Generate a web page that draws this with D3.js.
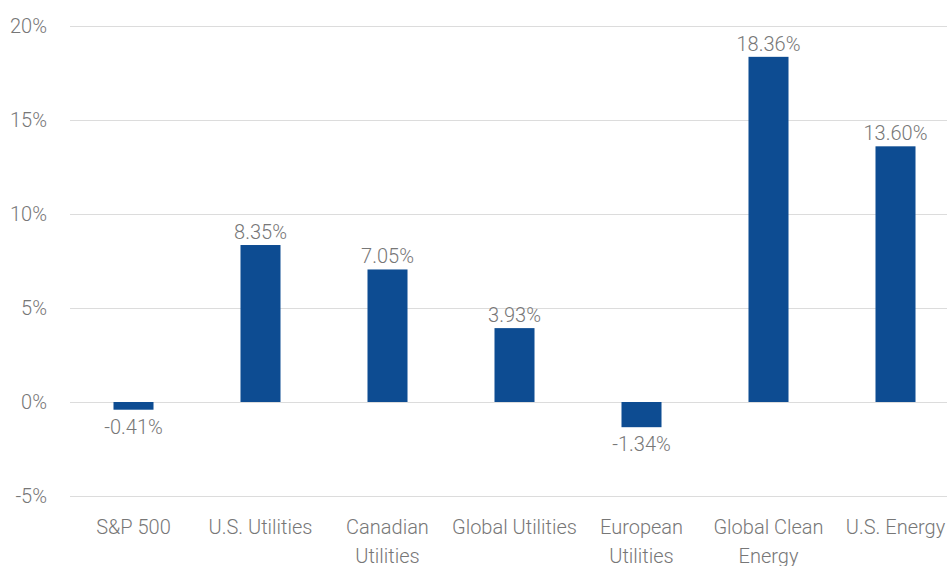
<!DOCTYPE html>
<html>
<head>
<meta charset="utf-8">
<script src="https://cdn.jsdelivr.net/npm/d3@7"></script>
<style>
  body { margin: 0; background: #fff; }
  svg text { font-family: Roboto, "Liberation Sans", sans-serif; font-weight: 300; fill: #777; }
</style>
</head>
<body>
<svg id="chart" width="947" height="566"></svg>
<script>
const categories = ["S&P 500", "U.S. Utilities", "Canadian Utilities", "Global Utilities",
                    "European Utilities", "Global Clean Energy", "U.S. Energy"];
const categoryLines = [["S&P 500"], ["U.S. Utilities"], ["Canadian", "Utilities"], ["Global Utilities"],
                       ["European", "Utilities"], ["Global Clean", "Energy"], ["U.S. Energy"]];
const returns = [-0.41, 8.35, 7.05, 3.93, -1.34, 18.36, 13.60];
const yTicks = [-5, 0, 5, 10, 15, 20];

const svg = d3.select("#chart");
const margin = { top: 26, left: 70, bottom: 70 };
const fontSize = "20px";

const xScale = d3.scaleBand()
    .domain(categories)
    .range([70, 959])
    .paddingInner(0.685)
    .paddingOuter(0.3425);

const yScale = d3.scaleLinear()
    .domain([-5, 20])
    .range([496, 26]);

// gridlines
svg.append("g")
    .selectAll("line")
    .data(yTicks)
    .enter()
    .append("line")
    .attr("x1", margin.left)
    .attr("x2", 947)
    .attr("y1", d => Math.round(yScale(d)) + 0.5)
    .attr("y2", d => Math.round(yScale(d)) + 0.5)
    .attr("stroke", "#dcdcdc")
    .attr("stroke-width", 1);

// y tick labels
svg.append("g")
    .selectAll("text")
    .data(yTicks)
    .enter()
    .append("text")
    .attr("x", 47)
    .attr("y", d => yScale(d))
    .attr("dy", "0.35em")
    .attr("text-anchor", "end")
    .style("font-size", fontSize)
    .text(d => d + "%");

// bars
svg.append("g")
    .selectAll("rect")
    .data(returns)
    .enter()
    .append("rect")
    .attr("x", (d, i) => xScale(categories[i]))
    .attr("width", xScale.bandwidth())
    .attr("y", d => yScale(Math.max(0, d)))
    .attr("height", d => Math.abs(yScale(d) - yScale(0)))
    .attr("fill", "#0d4c92");

// value labels
svg.append("g")
    .selectAll("text")
    .data(returns)
    .enter()
    .append("text")
    .attr("x", (d, i) => xScale(categories[i]) + xScale.bandwidth() / 2)
    .attr("y", d => d >= 0 ? yScale(d) - 6 : yScale(d) + 24)
    .attr("text-anchor", "middle")
    .style("font-size", fontSize)
    .text(d => d.toFixed(2) + "%");

// category labels
const catLabels = svg.append("g")
    .selectAll("text")
    .data(categoryLines)
    .enter()
    .append("text")
    .attr("x", (d, i) => xScale(categories[i]) + xScale.bandwidth() / 2)
    .attr("y", 534)
    .attr("text-anchor", "middle")
    .style("font-size", fontSize);

catLabels.selectAll("tspan")
    .data(d => d)
    .enter()
    .append("tspan")
    .attr("x", function () { return d3.select(this.parentNode).attr("x"); })
    .attr("dy", (d, i) => i === 0 ? 0 : 29)
    .text(d => d);
</script>
</body>
</html>
